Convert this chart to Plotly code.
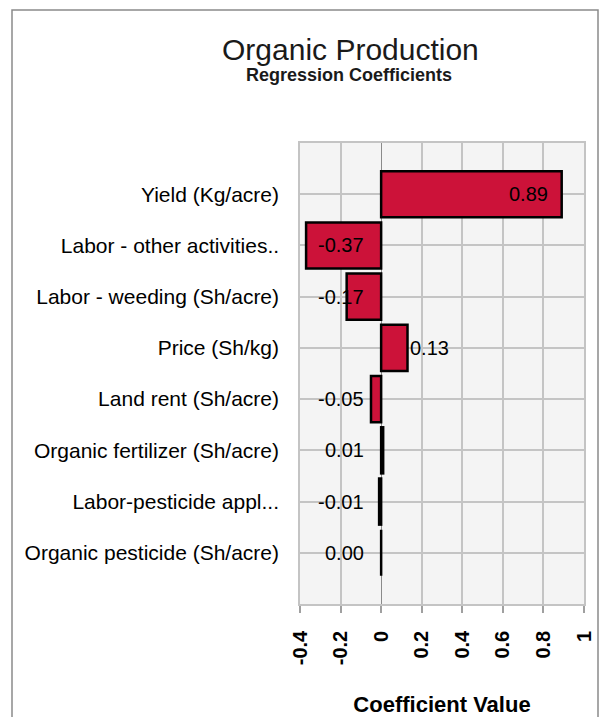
import plotly.graph_objects as go

categories = [
    "Yield (Kg/acre)",
    "Labor - other activities..",
    "Labor - weeding (Sh/acre)",
    "Price (Sh/kg)",
    "Land rent (Sh/acre)",
    "Organic fertilizer (Sh/acre)",
    "Labor-pesticide appl...",
    "Organic pesticide (Sh/acre)",
]
values = [0.89, -0.37, -0.17, 0.13, -0.05, 0.01, -0.01, 0.00]
value_labels = ["0.89", "-0.37", "-0.17", "0.13", "-0.05", "0.01", "-0.01", "0.00"]
x_ticks = [-0.4, -0.2, 0, 0.2, 0.4, 0.6, 0.8, 1]
x_ticktext = ["-0.4", "-0.2", "0", "0.2", "0.4", "0.6", "0.8", "1"]

W, H = 605, 717
L, R, T, B = 300, 21, 143, 113
pw, ph = W - L - R, H - T - B


def px_x(p):
    return (p - L) / pw


def px_y(q):
    return (H - B - q) / ph


fig = go.Figure()
fig.add_trace(go.Bar(
    x=values,
    y=categories,
    orientation="h",
    width=0.9,
    marker=dict(color="#cc1239", line=dict(color="#000000", width=2.5)),
    hoverinfo="x+y",
))

annotations = []
for cat, v, t in zip(categories, values, value_labels):
    if v > 0.5:
        annotations.append(dict(x=v, y=cat, xref="x", yref="y", text=t, showarrow=False,
                                xanchor="right", xshift=-12,
                                font=dict(family="Liberation Sans", size=20, color="#000")))
    elif v > 0.1:
        annotations.append(dict(x=v, y=cat, xref="x", yref="y", text=t, showarrow=False,
                                xanchor="left", xshift=0,
                                font=dict(family="Liberation Sans", size=20, color="#000")))
    else:
        annotations.append(dict(x=-0.075, y=cat, xref="x", yref="y", text=t, showarrow=False,
                                xanchor="right",
                                font=dict(family="Liberation Sans", size=20, color="#000")))

annotations.append(dict(x=px_x(350), y=px_y(49), xref="paper", yref="paper",
                        text="Organic Production", showarrow=False,
                        xanchor="center", yanchor="middle",
                        font=dict(family="Liberation Sans", size=30, color="#1a1a1a")))
annotations.append(dict(x=px_x(349), y=px_y(75), xref="paper", yref="paper",
                        text="<b>Regression Coefficients</b>", showarrow=False,
                        xanchor="center", yanchor="middle",
                        font=dict(family="Liberation Sans", size=18, color="#1a1a1a")))

fig.update_layout(
    width=W, height=H,
    margin=dict(l=L, r=R, t=T, b=B, pad=0, autoexpand=False),
    paper_bgcolor="#ffffff",
    plot_bgcolor="#f4f4f4",
    showlegend=False,
    bargap=0.1,
    annotations=annotations,
    shapes=[dict(type="rect", xref="paper", yref="paper",
                 x0=px_x(12), x1=px_x(598), y0=px_y(760), y1=px_y(10),
                 line=dict(color="#8a8a8a", width=1.5), layer="below")],
    font=dict(family="Liberation Sans", color="#000"),
)

fig.update_xaxes(
    automargin=False,
    range=[-0.4, 1],
    tickvals=x_ticks,
    ticktext=x_ticktext,
    tickangle=-90,
    tickfont=dict(family="Liberation Sans", size=20, color="#000", weight="bold"),
    ticks="outside", ticklen=7, tickwidth=1.5, tickcolor="#a0a0a0",
    ticklabelstandoff=10,
    showgrid=True, gridcolor="#c4c4c4", gridwidth=1.5,
    zeroline=True, zerolinecolor="#8a8a8a", zerolinewidth=1,
    showline=True, linecolor="#c4c4c4", linewidth=1.5, mirror=True,
    title=dict(text="<b>Coefficient Value</b>", standoff=34,
               font=dict(family="Liberation Sans", size=22, color="#000")),
)

fig.update_yaxes(
    automargin=False,
    type="category",
    categoryorder="array",
    categoryarray=categories,
    range=[8, -1],
    tickfont=dict(family="Liberation Sans", size=21, color="#000"),
    ticks="",
    ticklabelstandoff=15,
    showgrid=True, gridcolor="#c4c4c4", gridwidth=1.5,
    showline=True, linecolor="#c4c4c4", linewidth=1.5, mirror=True,
)

fig.write_html("out.html")
